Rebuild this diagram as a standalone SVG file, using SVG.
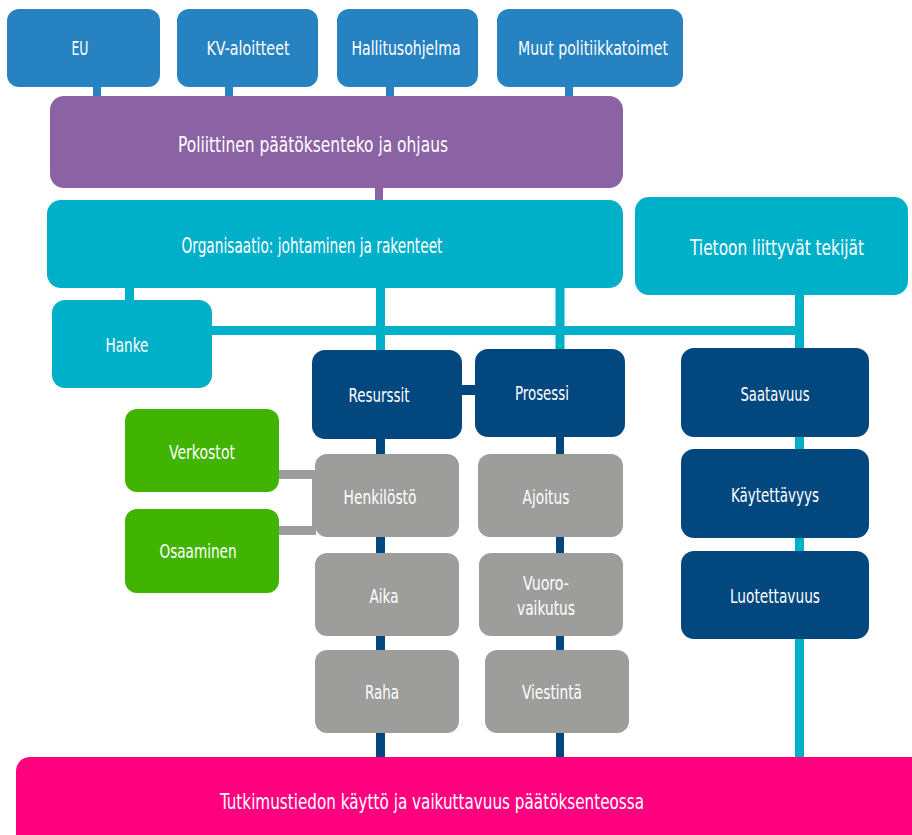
<svg xmlns="http://www.w3.org/2000/svg" width="912" height="835" viewBox="0 0 912 835">
<style>
text{font-family:"DejaVu Sans Condensed","Liberation Sans Narrow","Liberation Sans",sans-serif;fill:#ffffff;text-anchor:middle}
.t19{font-size:19px}
.t22{font-size:22px}
.top{fill:#2682c0}
.pur{fill:#8b62a3}
.cy{fill:#00afc8}
.db{fill:#03477f}
.gr{fill:#9d9d9c}
.gn{fill:#40b400}
.pk{fill:#ff007f}
.c-top{stroke:#2682c0;stroke-width:8;fill:none}
.c-pur{stroke:#8b62a3;stroke-width:8;fill:none}
.c-cy{stroke:#00afc8;stroke-width:9;fill:none}
.c-db{stroke:#03477f;stroke-width:9;fill:none}
.c-gr{stroke:#9d9d9c;stroke-width:9;fill:none}
</style>
<g id="connectors">
<line class="c-top" x1="97" y1="86" x2="97" y2="97"/>
<line class="c-top" x1="229" y1="86" x2="229" y2="97"/>
<line class="c-top" x1="390" y1="86" x2="390" y2="97"/>
<line class="c-top" x1="569" y1="86" x2="569" y2="97"/>
<line class="c-pur" x1="379" y1="187" x2="379" y2="201"/>
<line class="c-cy" x1="129.5" y1="287" x2="129.5" y2="301"/>
<line class="c-cy" x1="380.5" y1="287" x2="380.5" y2="351"/>
<line class="c-cy" x1="560" y1="287" x2="560" y2="350"/>
<path class="c-cy" d="M211,330.5 H799.5"/>
<line class="c-cy" x1="799.5" y1="294" x2="799.5" y2="760"/>
<line class="c-db" x1="461" y1="390" x2="476" y2="390" style="stroke-width:10"/>
<line class="c-db" x1="380.5" y1="438" x2="380.5" y2="760"/>
<line class="c-db" x1="560" y1="436" x2="560" y2="760" style="stroke-width:8"/>
<line class="c-gr" x1="278" y1="474.5" x2="316" y2="474.5"/>
<line class="c-gr" x1="278" y1="530.5" x2="316" y2="530.5"/>
<line class="c-gr" x1="314" y1="470" x2="314" y2="535" style="stroke-width:4"/>
</g>
<g id="eu"><rect class="top" x="7" y="9" width="153" height="78" rx="12"/><text class="t19" x="80" y="55" textLength="17" lengthAdjust="spacingAndGlyphs">EU</text></g>
<g id="kv"><rect class="top" x="177" y="9" width="141" height="78" rx="12"/><text class="t19" x="248" y="55" textLength="83" lengthAdjust="spacingAndGlyphs">KV-aloitteet</text></g>
<g id="hallitus"><rect class="top" x="337" y="9" width="141" height="78" rx="12"/><text class="t19" x="406" y="55" textLength="109" lengthAdjust="spacingAndGlyphs">Hallitusohjelma</text></g>
<g id="muut"><rect class="top" x="497" y="9" width="186" height="78" rx="12"/><text class="t19" x="593" y="55" textLength="150" lengthAdjust="spacingAndGlyphs">Muut politiikkatoimet</text></g>
<g id="poliittinen"><rect class="pur" x="50" y="96" width="573" height="92" rx="14"/><text class="t22" x="313" y="152" textLength="270" lengthAdjust="spacingAndGlyphs">Poliittinen päätöksenteko ja ohjaus</text></g>
<g id="organisaatio"><rect class="cy" x="47" y="200" width="576" height="88" rx="14"/><text class="t22" x="312" y="253" textLength="261" lengthAdjust="spacingAndGlyphs">Organisaatio: johtaminen ja rakenteet</text></g>
<g id="tietoon"><rect class="cy" x="635" y="197" width="273" height="98" rx="14"/><text class="t22" x="777" y="255" textLength="174" lengthAdjust="spacingAndGlyphs">Tietoon liittyvät tekijät</text></g>
<g id="hanke"><rect class="cy" x="52" y="300" width="160" height="88" rx="13"/><text class="t19" x="127" y="352" textLength="43" lengthAdjust="spacingAndGlyphs">Hanke</text></g>
<g id="resurssit"><rect class="db" x="312" y="350" width="150" height="89" rx="13"/><text class="t19" x="379" y="402" textLength="61" lengthAdjust="spacingAndGlyphs">Resurssit</text></g>
<g id="prosessi"><rect class="db" x="475" y="349" width="150" height="88" rx="13"/><text class="t19" x="542" y="400" textLength="54" lengthAdjust="spacingAndGlyphs">Prosessi</text></g>
<g id="henkilosto"><rect class="gr" x="315" y="454" width="144" height="83" rx="12"/><text class="t19" x="380" y="504" textLength="73" lengthAdjust="spacingAndGlyphs">Henkilöstö</text></g>
<g id="aika"><rect class="gr" x="315" y="553" width="144" height="83" rx="12"/><text class="t19" x="384" y="603" textLength="29" lengthAdjust="spacingAndGlyphs">Aika</text></g>
<g id="raha"><rect class="gr" x="315" y="650" width="144" height="83" rx="12"/><text class="t19" x="382" y="699" textLength="34" lengthAdjust="spacingAndGlyphs">Raha</text></g>
<g id="ajoitus"><rect class="gr" x="478" y="454" width="145" height="83" rx="12"/><text class="t19" x="546" y="504" textLength="47" lengthAdjust="spacingAndGlyphs">Ajoitus</text></g>
<g id="vuorovaikutus"><rect class="gr" x="479" y="553" width="144" height="83" rx="12"/><text class="t19" x="546" y="590" textLength="46" lengthAdjust="spacingAndGlyphs">Vuoro-</text><text class="t19" x="546" y="615" textLength="58" lengthAdjust="spacingAndGlyphs">vaikutus</text></g>
<g id="viestinta"><rect class="gr" x="485" y="650" width="144" height="83" rx="12"/><text class="t19" x="552" y="699" textLength="60" lengthAdjust="spacingAndGlyphs">Viestintä</text></g>
<g id="verkostot"><rect class="gn" x="125" y="409" width="154" height="83" rx="12"/><text class="t19" x="202" y="459" textLength="66" lengthAdjust="spacingAndGlyphs">Verkostot</text></g>
<g id="osaaminen"><rect class="gn" x="125" y="509" width="154" height="84" rx="12"/><text class="t19" x="198" y="558" textLength="77" lengthAdjust="spacingAndGlyphs">Osaaminen</text></g>
<g id="saatavuus"><rect class="db" x="681" y="348" width="188" height="89" rx="13"/><text class="t19" x="775" y="401" textLength="69" lengthAdjust="spacingAndGlyphs">Saatavuus</text></g>
<g id="kaytettavyys"><rect class="db" x="681" y="449" width="188" height="89" rx="13"/><text class="t19" x="775" y="502" textLength="88" lengthAdjust="spacingAndGlyphs">Käytettävyys</text></g>
<g id="luotettavuus"><rect class="db" x="681" y="551" width="188" height="88" rx="13"/><text class="t19" x="775" y="603" textLength="90" lengthAdjust="spacingAndGlyphs">Luotettavuus</text></g>
<g id="tutkimustieto"><rect class="pk" x="16" y="757" width="930" height="110" rx="14"/><text class="t22" x="432" y="809" textLength="424" lengthAdjust="spacingAndGlyphs">Tutkimustiedon käyttö ja vaikuttavuus päätöksenteossa</text></g>
</svg>
